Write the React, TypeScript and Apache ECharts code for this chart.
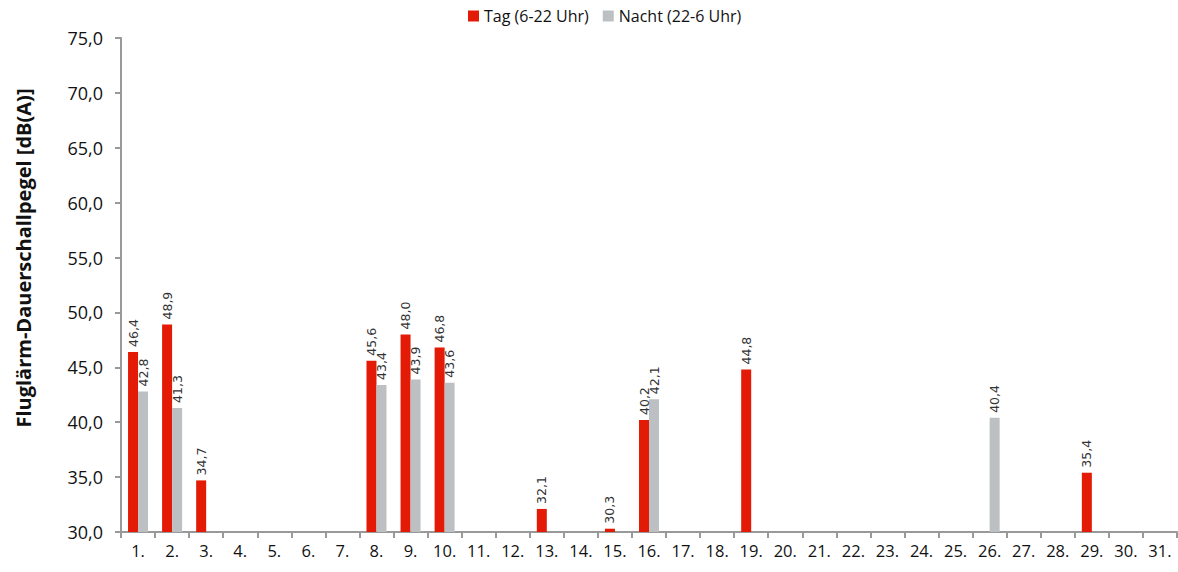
import React, { useEffect, useRef } from "react";
import * as echarts from "echarts";

const days: string[] = Array.from({ length: 31 }, (_, i) => `${i + 1}.`);
const tagValues: (number | null)[] = [46.4, 48.9, 34.7, null, null, null, null, 45.6, 48.0, 46.8, null, null, 32.1, null, 30.3, 40.2, null, null, 44.8, null, null, null, null, null, null, null, null, null, 35.4, null, null];
const nachtValues: (number | null)[] = [42.8, 41.3, null, null, null, null, null, 43.4, 43.9, 43.6, null, null, null, null, null, 42.1, null, null, null, null, null, null, null, null, null, 40.4, null, null, null, null, null];
const seriesNames = ["Tag (6-22 Uhr)", "Nacht (22-6 Uhr)"];
const yAxisTitle = "Fluglärm-Dauerschallpegel [dB(A)]";
const yMin = 30;
const yMax = 75;
const yInterval = 5;

const fmt = (v: number) => v.toFixed(1).replace(".", ",");

export default function App() {
  const ref = useRef<HTMLDivElement>(null);
  useEffect(() => {
    if (!ref.current) return;
    const chart = echarts.init(ref.current, null, { renderer: "svg" });
    const label = {
      show: true,
      position: "top",
      rotate: 90,
      align: "left",
      verticalAlign: "middle",
      distance: 5,
      color: "#333",
      fontSize: 12.5,
      fontFamily: "DejaVu Sans",
      formatter: (p: any) => (p.value == null ? "" : fmt(p.value)),
    };
    chart.setOption({
      animation: false,
      textStyle: { fontFamily: "Open Sans" },
      legend: {
        top: 3,
        left: 463,
        itemWidth: 11,
        itemHeight: 11,
        itemGap: 14,
        icon: "rect",
        textStyle: { fontSize: 16, color: "#111", fontFamily: "Open Sans" },
        data: seriesNames,
      },
      graphic: [
        {
          type: "text",
          x: 23,
          y: 258,
          rotation: Math.PI / 2,
          style: {
            text: yAxisTitle,
            fontSize: 20,
            fontWeight: "bold",
            fill: "#111",
            fontFamily: "Open Sans",
            align: "center",
            verticalAlign: "middle",
          },
        },
      ],
      grid: { left: 121, right: 1, top: 38, bottom: 40, containLabel: false },
      xAxis: {
        type: "category",
        data: days,
        axisLine: { lineStyle: { color: "#999", width: 2 } },
        axisTick: { show: true, alignWithLabel: false, length: 6, lineStyle: { color: "#999", width: 2 } },
        axisLabel: { color: "#111", fontSize: 16.5, margin: 10, interval: 0, fontFamily: "Open Sans" },
      },
      yAxis: {
        type: "value",
        min: yMin,
        max: yMax,
        interval: yInterval,
        splitLine: { show: false },
        axisLine: { show: true, lineStyle: { color: "#999", width: 2 } },
        axisTick: { show: true, length: 6, lineStyle: { color: "#999", width: 2 } },
        axisLabel: { color: "#111", fontSize: 18, margin: 18, formatter: (v: number) => fmt(v), fontFamily: "Open Sans" },
      },
      series: [
        {
          name: seriesNames[0],
          type: "bar",
          data: tagValues,
          barWidth: 10,
          barGap: "0%",
          itemStyle: { color: "#E31A05" },
          label,
        },
        {
          name: seriesNames[1],
          type: "bar",
          data: nachtValues,
          barWidth: 10,
          barGap: "0%",
          itemStyle: { color: "#BDC0C2" },
          label,
        },
      ],
    });
    return () => chart.dispose();
  }, []);
  return (
    <div
      ref={ref}
      style={{ position: "fixed", left: 0, top: 0, width: 1178, height: 572, background: "#fff" }}
    />
  );
}
